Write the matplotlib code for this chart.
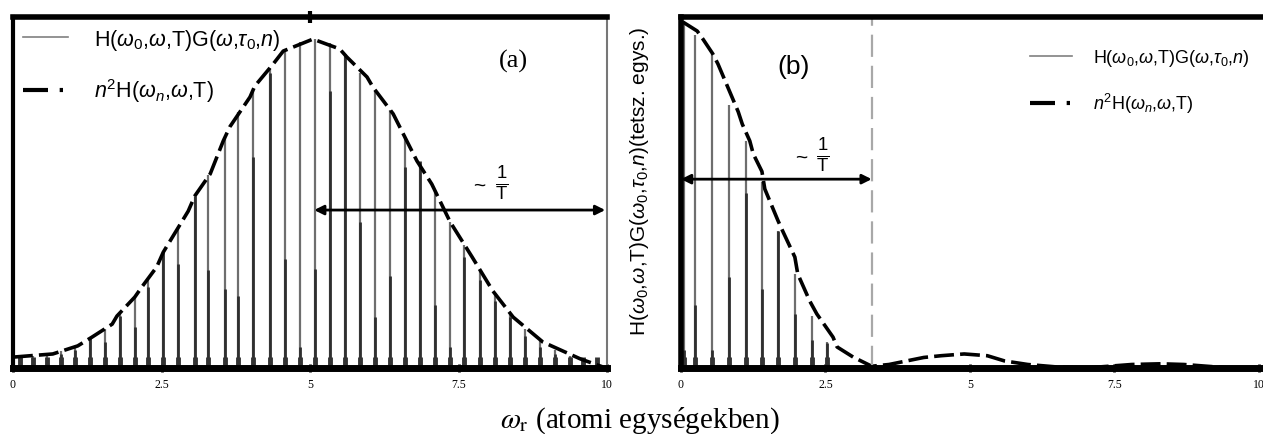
import matplotlib
matplotlib.use("Agg")
import matplotlib.pyplot as plt
from matplotlib.lines import Line2D

plt.rcParams['mathtext.fontset'] = 'custom'
plt.rcParams['mathtext.rm'] = 'Liberation Sans'
plt.rcParams['mathtext.it'] = 'Liberation Sans:italic'
plt.rcParams['font.family'] = ['Liberation Sans', 'DejaVu Sans']

# ---- panel (a): envelope
env_a_x = [0.0, 0.67, 1.09, 1.33, 1.67, 1.75, 2.05, 2.17, 2.42, 2.53, 2.95, 3.06, 3.32,
           3.54, 3.65, 3.99, 4.07, 4.38, 4.55, 5.05, 5.5, 5.62, 5.96, 6.06, 6.4, 6.68,
           6.8, 7.05, 7.36, 7.73, 8.08, 8.42, 8.92, 9.55, 9.93]
env_a_y = [0.031, 0.040, 0.063, 0.088, 0.125, 0.148, 0.202, 0.231, 0.288, 0.330, 0.447,
           0.490, 0.553, 0.647, 0.687, 0.772, 0.803, 0.866, 0.903, 0.937, 0.909, 0.886,
           0.829, 0.800, 0.724, 0.630, 0.590, 0.524, 0.416, 0.316, 0.219, 0.145, 0.074,
           0.026, 0.003]

# spectral lines (a): position, full height, inner (darker) height
lines_a_x = [0.12, 0.34, 0.57, 0.8, 1.04, 1.3, 1.55, 1.8, 2.05, 2.28, 2.53, 2.78, 3.06,
             3.28, 3.57, 3.79, 4.04, 4.33, 4.58, 4.83, 5.08, 5.34, 5.59, 5.84, 6.09, 6.35,
             6.6, 6.85, 7.1, 7.36, 7.6, 7.86, 8.11, 8.37, 8.62, 8.87, 9.12, 9.38, 9.6, 9.83]
lines_a_top = [0.032, 0.035, 0.04, 0.048, 0.06, 0.085, 0.11, 0.155, 0.20, 0.25, 0.33, 0.40,
               0.49, 0.55, 0.655, 0.73, 0.79, 0.855, 0.905, 0.93, 0.937, 0.925, 0.89, 0.84,
               0.79, 0.735, 0.655, 0.58, 0.505, 0.416, 0.35, 0.28, 0.215, 0.155, 0.11,
               0.078, 0.05, 0.035, 0.025, 0.012]
lines_a_in = [0.02, 0.02, 0.025, 0.04, 0.05, 0.088, 0.074, 0.148, 0.117, 0.23, 0.33, 0.296,
              0.49, 0.28, 0.225, 0.205, 0.60, 0.84, 0.31, 0.06, 0.282, 0.79, 0.895, 0.416,
              0.145, 0.262, 0.573, 0.59, 0.18, 0.06, 0.316, 0.25, 0.19, 0.145, 0.09, 0.06,
              0.04, 0.03, 0.02, 0.01]

# ---- panel (b)
env_b_x = [0.03, 0.28, 0.38, 0.55, 0.64, 0.99, 1.06, 1.19, 1.25, 1.40, 1.45, 1.68, 1.76,
           1.97, 2.02, 2.23, 2.35, 2.63, 2.70, 2.98, 3.3, 3.6, 3.9, 4.2, 4.5, 4.9, 5.3,
           5.6, 6.0, 6.5, 7.0, 7.4, 7.8, 8.3, 8.7, 9.1, 9.5, 10.0]
env_b_y = [0.986, 0.96, 0.937, 0.895, 0.866, 0.73, 0.695, 0.647, 0.61, 0.56, 0.51, 0.419,
           0.39, 0.316, 0.268, 0.19, 0.154, 0.088, 0.06, 0.031, 0.005, 0.01, 0.02, 0.03,
           0.035, 0.04, 0.035, 0.02, 0.01, 0.003, 0.0, 0.005, 0.01, 0.012, 0.01, 0.005,
           0.0, 0.0]
lines_b_x = [0.05, 0.24, 0.54, 0.83, 1.12, 1.40, 1.68, 1.97, 2.27, 2.53]
lines_b_top = [0.98, 0.95, 0.895, 0.75, 0.647, 0.53, 0.39, 0.268, 0.148, 0.074]
lines_b_in = [0.05, 0.18, 0.05, 0.26, 0.50, 0.225, 0.39, 0.154, 0.08, 0.07]
cut_b = 3.30

tick_pos = [0, 2.5, 5, 7.5, 10]
tick_lab = ['0', '2.5', '5', '7.5', '10']

lab1 = r'H($\omega_0$,$\omega$,T)G($\omega$,$\tau_0$,$n$)'
lab2 = r'$n^2$H($\omega_n$,$\omega$,T)'

fig = plt.figure(figsize=(12.63, 4.35), dpi=100)
axL = fig.add_axes([13/1263, 66/435, 594/1263, 351/435])
axR = fig.add_axes([681/1263, 66/435, 582/1263, 351/435])

env_style = dict(color='k', lw=2.6, ls=(0, (5.5, 1.7)))
leg_handles = [Line2D([], [], color='#808080', lw=1.2),
               Line2D([], [], color='k', lw=3, ls=(0, (6, 2.8, 0.8, 3)))]

for ax, lx, ltop, lin, ex, ey in [(axL, lines_a_x, lines_a_top, lines_a_in, env_a_x, env_a_y),
                                  (axR, lines_b_x, lines_b_top, lines_b_in, env_b_x, env_b_y)]:
    ax.vlines(lx, 0, ltop, color='#6e6e6e', lw=1.6)
    ax.vlines(lx, 0, lin, color='#2e2e2e', lw=2.0)
    # dark foot of each line at the base
    ax.vlines(lx, 0, 0.03, color='#333333', lw=3.5)
    ax.plot(ex, ey, **env_style)
    ax.set_ylim(0, 1)
    ax.set_yticks([])
    ax.set_xticks(tick_pos)
    ax.set_xticklabels(tick_lab, family='Liberation Serif', fontsize=8.5)
    ax.tick_params(axis='x', direction='inout', length=6, width=2, pad=4)
    ax.spines['top'].set_linewidth(4)
    ax.spines['bottom'].set_linewidth(5)
    ax.spines['left'].set_linewidth(3)

axL.set_xlim(0, 10)
axL.spines['right'].set_linewidth(1.5)
axL.spines['right'].set_color('#777777')
axR.set_xlim(0, 10.07)
axR.spines['right'].set_visible(False)
axR.spines['left'].set_linewidth(4)

# top tick mark at the centre of (a)
axL.plot([5], [1], marker='|', color='k', ms=8, mew=3, clip_on=False)

axR.axvline(cut_b, color='#a8a8a8', lw=1.6, ls=(0, (10, 4)))

arrow = dict(arrowstyle='<|-|>', lw=2, color='k', mutation_scale=14, shrinkA=0, shrinkB=0)
axL.annotate('', xy=(5.07, 0.45), xytext=(9.97, 0.45), arrowprops=arrow)
axR.annotate('', xy=(0.0, 0.538), xytext=(cut_b, 0.538), arrowprops=arrow)
axL.text(7.85, 0.52, '~', fontsize=15, ha='center', va='center')
axL.text(8.23, 0.527, r'$\frac{1}{\mathrm{T}}$', fontsize=19, ha='center', va='center')
axR.text(2.08, 0.60, '~', fontsize=15, ha='center', va='center')
axR.text(2.45, 0.607, r'$\frac{1}{\mathrm{T}}$', fontsize=19, ha='center', va='center')

axL.text(8.42, 0.875, '(a)', family='Liberation Serif', fontsize=19, ha='center', va='center')
axR.text(1.94, 0.86, '(b)', fontsize=19, ha='center', va='center')

axL.legend(leg_handles, [lab1, lab2], loc='upper left', bbox_to_anchor=(0.017, 0.972),
           frameon=False, fontsize=15.5, handlelength=2.1, handletextpad=1.2,
           labelspacing=1.15, borderpad=0, borderaxespad=0)
axR.legend(leg_handles, [lab1, lab2], loc='upper left', bbox_to_anchor=(0.60, 0.915),
           frameon=False, fontsize=13, handlelength=2.3, handletextpad=1.2,
           labelspacing=1.3, borderpad=0, borderaxespad=0)

fig.text(640/1263, (435-181)/435, r'H($\omega_0$,$\omega$,T)G($\omega_0$,$\tau_0$,$n$)(tetsz. egys.)',
         rotation=90, fontsize=15, ha='center', va='center')
fig.text(640/1263, (435-421)/435, r'$\omega_{\mathrm{r}}$ (atomi egységekben)',
         family='Liberation Serif', math_fontfamily='stix', fontsize=21, ha='center', va='center')

fig.savefig('out.png', dpi=100)
